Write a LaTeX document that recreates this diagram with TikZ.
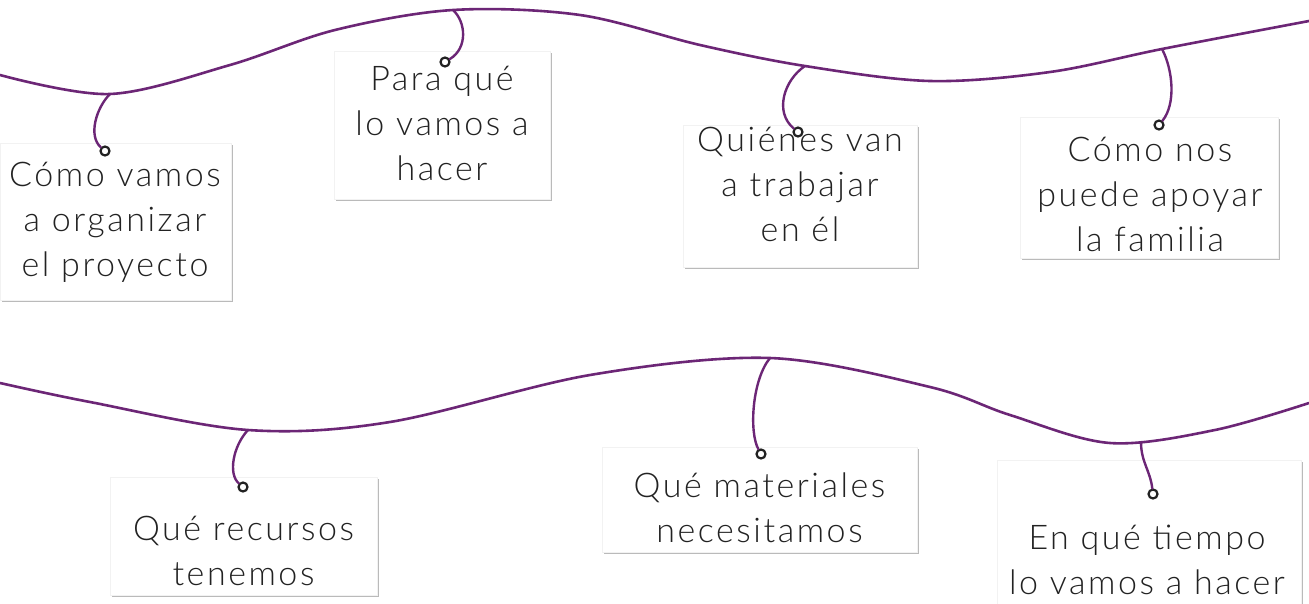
\documentclass[tikz,border=0pt]{standalone}
\usepackage{fontspec}
\setmainfont{Lato}[UprightFont=* Light,LetterSpace=7.5]
\usetikzlibrary{shadows}
\definecolor{cordpurple}{RGB}{108,38,118}
\definecolor{inkdark}{RGB}{34,34,34}

\begin{document}
\begin{tikzpicture}[x=1pt,y=-1pt,line cap=round,
  wire/.style={cordpurple,line width=2.6pt},
  string/.style={cordpurple,line width=2.4pt},
  eyelet/.style={circle,draw=inkdark,fill=white,line width=2.2pt,inner sep=0pt,minimum size=9pt},
  card/.style={fill=white,draw=black!5,line width=0.4pt,inner sep=0pt,
    drop shadow={shadow xshift=1.6pt,shadow yshift=-1.6pt,fill=black!45,opacity=.6}},
  cardtext/.style={anchor=base,align=center,inner sep=0pt,text=inkdark,
    font=\fontsize{34}{45}\selectfont}]
  \useasboundingbox[fill=white] (0,0) rectangle (1309,603);
  % the two cords
  \draw[wire] plot[smooth,tension=0.55] coordinates {(0,75) (110,94) (230,65) (335,30) (453,10)
    (580,15) (700,45) (805,66) (930,81) (1050,72) (1162,49) (1309,21)};
  \draw[wire] plot[smooth,tension=0.55] coordinates {(0,383) (90,402) (248,430) (390,422) (590,375)
    (770,358) (930,387) (1010,415) (1110,443) (1215,430) (1309,403)};
  % where the strings leave the cords
  \coordinate (k1) at (110,94);
  \coordinate (k2) at (453,10);
  \coordinate (k3) at (805,66);
  \coordinate (k4) at (1162,49);
  \coordinate (k5) at (248,430);
  \coordinate (k6) at (770,358);
  \coordinate (k7) at (1141,442);
  % cards
  \node[card,minimum width=231pt,minimum height=157pt] (organizar) at (115.5,221.5) {};
  \node[card,minimum width=216pt,minimum height=148pt] (paraque) at (442,125) {};
  \node[card,minimum width=234pt,minimum height=142pt] (quienes) at (800,196) {};
  \node[card,minimum width=258pt,minimum height=141pt] (familia) at (1149,187.5) {};
  \node[card,minimum width=267pt,minimum height=118pt] (recursos) at (243.5,536) {};
  \node[card,minimum width=315pt,minimum height=105pt] (materiales) at (759.5,499.5) {};
  \node[card,minimum width=304pt,minimum height=224pt] (tiempo) at (1149,572) {};
  % texts, placed on their last baseline
  \node[cardtext] (organizar-txt) at (115,276) {Cómo vamos\\a organizar\\el proyecto};
  \node[cardtext] (paraque-txt) at (442,180) {Para qué\\lo vamos a\\hacer};
  \node[cardtext] (quienes-txt) at (800,241) {Quiénes van\\a trabajar\\en él};
  \node[cardtext] (familia-txt) at (1150,251) {Cómo nos\\puede apoyar\\la familia};
  \node[cardtext] (recursos-txt) at (243.5,585) {Qué recursos\\tenemos};
  \node[cardtext] (materiales-txt) at (759.5,542) {Qué materiales\\necesitamos};
  \node[cardtext] (tiempo-txt) at (1147,594) {En qué tiempo\\lo vamos a hacer};
  % eyelets
  \node[eyelet] (e1) at (105,151) {};
  \node[eyelet] (e2) at (445,62) {};
  \node[eyelet] (e3) at (798,132) {};
  \node[eyelet] (e4) at (1159,125) {};
  \node[eyelet] (e5) at (243,487) {};
  \node[eyelet] (e6) at (761,454) {};
  \node[eyelet] (e7) at (1153,494) {};
  % strings
  \draw[string] (k1) .. controls (96,108) and (88,136) .. (e1);
  \draw[string] (k2) .. controls (466,22) and (468,48) .. (e2);
  \draw[string] (k3) .. controls (784,80) and (774,112) .. (e3);
  \draw[string] (k4) .. controls (1173,70) and (1176,104) .. (e4);
  \draw[string] (k5) .. controls (233,446) and (228,474) .. (e5);
  \draw[string] (k6) .. controls (752,380) and (749,432) .. (e6);
  \draw[string] (k7) .. controls (1141,462) and (1150,470) .. (e7);
\end{tikzpicture}
\end{document}
